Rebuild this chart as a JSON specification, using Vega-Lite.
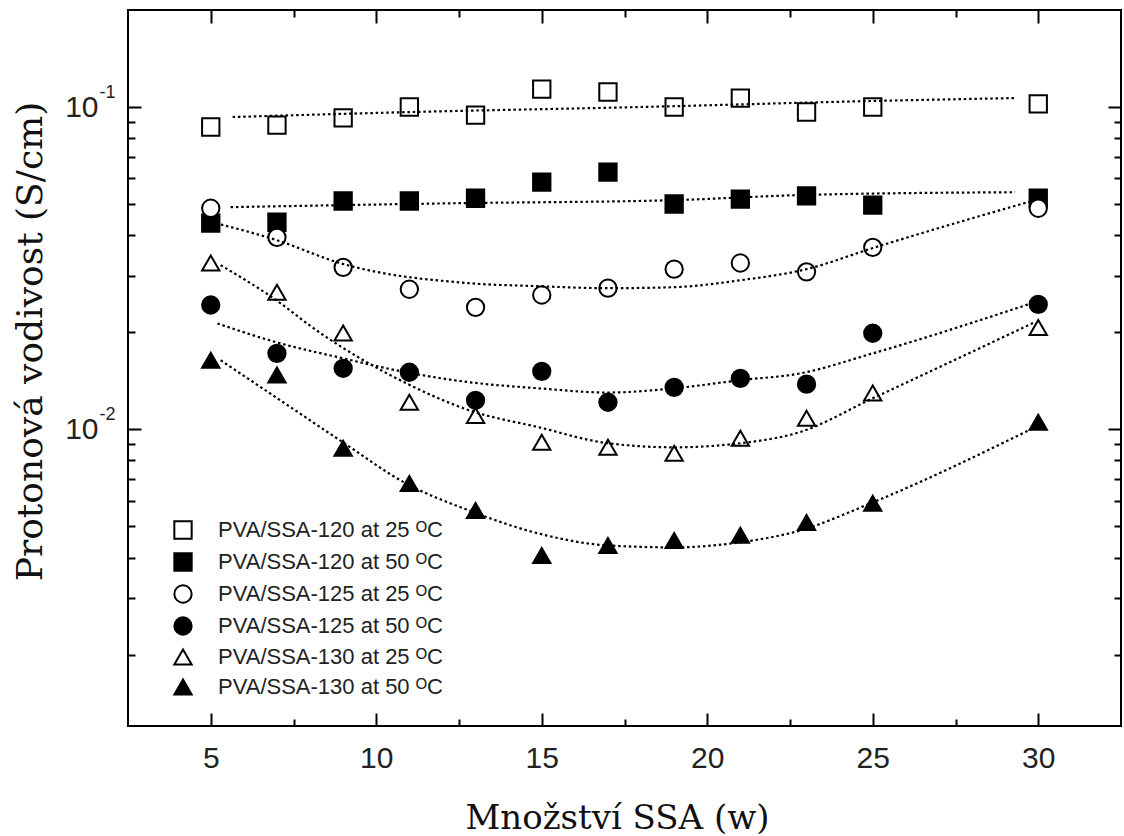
{
  "$schema": "https://vega.github.io/schema/vega-lite/v6.json",
  "width": 993,
  "height": 716,
  "autosize": "none",
  "padding": {"left": 128, "top": 10, "right": 3, "bottom": 110},
  "background": "white",
  "config": {
    "view": {"stroke": "black", "strokeWidth": 2},
    "legend": {
      "labelFont": "Liberation Sans",
      "labelFontSize": 22,
      "labelColor": "#222",
      "symbolStrokeColor": "black",
      "symbolStrokeWidth": 2,
      "rowPadding": 6,
      "labelOffset": 24,
      "padding": 0,
      "labelLimit": 400
    }
  },
  "datasets": {
    "pts": [
      {"series": "PVA/SSA-120 at 25 ᴼC", "w": 5, "sigma": 0.0867},
      {"series": "PVA/SSA-120 at 25 ᴼC", "w": 7, "sigma": 0.0879},
      {"series": "PVA/SSA-120 at 25 ᴼC", "w": 9, "sigma": 0.0925},
      {"series": "PVA/SSA-120 at 25 ᴼC", "w": 11, "sigma": 0.1},
      {"series": "PVA/SSA-120 at 25 ᴼC", "w": 13, "sigma": 0.0944},
      {"series": "PVA/SSA-120 at 25 ᴼC", "w": 15, "sigma": 0.1137},
      {"series": "PVA/SSA-120 at 25 ᴼC", "w": 17, "sigma": 0.1113},
      {"series": "PVA/SSA-120 at 25 ᴼC", "w": 19, "sigma": 0.1},
      {"series": "PVA/SSA-120 at 25 ᴼC", "w": 21, "sigma": 0.1066},
      {"series": "PVA/SSA-120 at 25 ᴼC", "w": 23, "sigma": 0.0965},
      {"series": "PVA/SSA-120 at 25 ᴼC", "w": 25, "sigma": 0.1},
      {"series": "PVA/SSA-120 at 25 ᴼC", "w": 30, "sigma": 0.1022},
      {"series": "PVA/SSA-120 at 50 ᴼC", "w": 5, "sigma": 0.0436},
      {"series": "PVA/SSA-120 at 50 ᴼC", "w": 7, "sigma": 0.0439},
      {"series": "PVA/SSA-120 at 50 ᴼC", "w": 9, "sigma": 0.0511},
      {"series": "PVA/SSA-120 at 50 ᴼC", "w": 11, "sigma": 0.0511},
      {"series": "PVA/SSA-120 at 50 ᴼC", "w": 13, "sigma": 0.0521},
      {"series": "PVA/SSA-120 at 50 ᴼC", "w": 15, "sigma": 0.0585},
      {"series": "PVA/SSA-120 at 50 ᴼC", "w": 17, "sigma": 0.0628},
      {"series": "PVA/SSA-120 at 50 ᴼC", "w": 19, "sigma": 0.05},
      {"series": "PVA/SSA-120 at 50 ᴼC", "w": 21, "sigma": 0.0518},
      {"series": "PVA/SSA-120 at 50 ᴼC", "w": 23, "sigma": 0.053},
      {"series": "PVA/SSA-120 at 50 ᴼC", "w": 25, "sigma": 0.0496},
      {"series": "PVA/SSA-120 at 50 ᴼC", "w": 30, "sigma": 0.0521},
      {"series": "PVA/SSA-125 at 25 ᴼC", "w": 5, "sigma": 0.0485},
      {"series": "PVA/SSA-125 at 25 ᴼC", "w": 7, "sigma": 0.0394},
      {"series": "PVA/SSA-125 at 25 ᴼC", "w": 9, "sigma": 0.0318},
      {"series": "PVA/SSA-125 at 25 ᴼC", "w": 11, "sigma": 0.0272},
      {"series": "PVA/SSA-125 at 25 ᴼC", "w": 13, "sigma": 0.0239},
      {"series": "PVA/SSA-125 at 25 ᴼC", "w": 15, "sigma": 0.0261},
      {"series": "PVA/SSA-125 at 25 ᴼC", "w": 17, "sigma": 0.0274},
      {"series": "PVA/SSA-125 at 25 ᴼC", "w": 19, "sigma": 0.0314},
      {"series": "PVA/SSA-125 at 25 ᴼC", "w": 21, "sigma": 0.0328},
      {"series": "PVA/SSA-125 at 25 ᴼC", "w": 23, "sigma": 0.0308},
      {"series": "PVA/SSA-125 at 25 ᴼC", "w": 25, "sigma": 0.0367},
      {"series": "PVA/SSA-125 at 25 ᴼC", "w": 30, "sigma": 0.0485},
      {"series": "PVA/SSA-125 at 50 ᴼC", "w": 5, "sigma": 0.0243},
      {"series": "PVA/SSA-125 at 50 ᴼC", "w": 7, "sigma": 0.0172},
      {"series": "PVA/SSA-125 at 50 ᴼC", "w": 9, "sigma": 0.01546},
      {"series": "PVA/SSA-125 at 50 ᴼC", "w": 11, "sigma": 0.01503},
      {"series": "PVA/SSA-125 at 50 ᴼC", "w": 13, "sigma": 0.0123},
      {"series": "PVA/SSA-125 at 50 ᴼC", "w": 15, "sigma": 0.01513},
      {"series": "PVA/SSA-125 at 50 ᴼC", "w": 17, "sigma": 0.01213},
      {"series": "PVA/SSA-125 at 50 ᴼC", "w": 19, "sigma": 0.01349},
      {"series": "PVA/SSA-125 at 50 ᴼC", "w": 21, "sigma": 0.01438},
      {"series": "PVA/SSA-125 at 50 ᴼC", "w": 23, "sigma": 0.0138},
      {"series": "PVA/SSA-125 at 50 ᴼC", "w": 25, "sigma": 0.01986},
      {"series": "PVA/SSA-125 at 50 ᴼC", "w": 30, "sigma": 0.0244},
      {"series": "PVA/SSA-130 at 25 ᴼC", "w": 5, "sigma": 0.0328},
      {"series": "PVA/SSA-130 at 25 ᴼC", "w": 7, "sigma": 0.0266},
      {"series": "PVA/SSA-130 at 25 ᴼC", "w": 9, "sigma": 0.0199},
      {"series": "PVA/SSA-130 at 25 ᴼC", "w": 11, "sigma": 0.01213},
      {"series": "PVA/SSA-130 at 25 ᴼC", "w": 13, "sigma": 0.01104},
      {"series": "PVA/SSA-130 at 25 ᴼC", "w": 15, "sigma": 0.00911},
      {"series": "PVA/SSA-130 at 25 ᴼC", "w": 17, "sigma": 0.00879},
      {"series": "PVA/SSA-130 at 25 ᴼC", "w": 19, "sigma": 0.00842},
      {"series": "PVA/SSA-130 at 25 ᴼC", "w": 21, "sigma": 0.00937},
      {"series": "PVA/SSA-130 at 25 ᴼC", "w": 23, "sigma": 0.01081},
      {"series": "PVA/SSA-130 at 25 ᴼC", "w": 25, "sigma": 0.01295},
      {"series": "PVA/SSA-130 at 25 ᴼC", "w": 30, "sigma": 0.0207},
      {"series": "PVA/SSA-130 at 50 ᴼC", "w": 5, "sigma": 0.01637},
      {"series": "PVA/SSA-130 at 50 ᴼC", "w": 7, "sigma": 0.01473},
      {"series": "PVA/SSA-130 at 50 ᴼC", "w": 9, "sigma": 0.00873},
      {"series": "PVA/SSA-130 at 50 ᴼC", "w": 11, "sigma": 0.00679},
      {"series": "PVA/SSA-130 at 50 ᴼC", "w": 13, "sigma": 0.0056},
      {"series": "PVA/SSA-130 at 50 ᴼC", "w": 15, "sigma": 0.00406},
      {"series": "PVA/SSA-130 at 50 ᴼC", "w": 17, "sigma": 0.00436},
      {"series": "PVA/SSA-130 at 50 ᴼC", "w": 19, "sigma": 0.00452},
      {"series": "PVA/SSA-130 at 50 ᴼC", "w": 21, "sigma": 0.00469},
      {"series": "PVA/SSA-130 at 50 ᴼC", "w": 23, "sigma": 0.00514},
      {"series": "PVA/SSA-130 at 50 ᴼC", "w": 25, "sigma": 0.00589},
      {"series": "PVA/SSA-130 at 50 ᴼC", "w": 30, "sigma": 0.01051}
    ],
    "fit": [
      {"series": "PVA/SSA-120 at 25 ᴼC", "w": 5.66, "sigma": 0.0931},
      {"series": "PVA/SSA-120 at 25 ᴼC", "w": 11.1, "sigma": 0.0965},
      {"series": "PVA/SSA-120 at 25 ᴼC", "w": 18, "sigma": 0.1},
      {"series": "PVA/SSA-120 at 25 ᴼC", "w": 25, "sigma": 0.1044},
      {"series": "PVA/SSA-120 at 25 ᴼC", "w": 29.3, "sigma": 0.1066},
      {"series": "PVA/SSA-120 at 50 ᴼC", "w": 5.6, "sigma": 0.0489},
      {"series": "PVA/SSA-120 at 50 ᴼC", "w": 12.5, "sigma": 0.0503},
      {"series": "PVA/SSA-120 at 50 ᴼC", "w": 19, "sigma": 0.0514},
      {"series": "PVA/SSA-120 at 50 ᴼC", "w": 22.8, "sigma": 0.0533},
      {"series": "PVA/SSA-120 at 50 ᴼC", "w": 29.3, "sigma": 0.0544},
      {"series": "PVA/SSA-125 at 25 ᴼC", "w": 5.15, "sigma": 0.0436},
      {"series": "PVA/SSA-125 at 25 ᴼC", "w": 7, "sigma": 0.0386},
      {"series": "PVA/SSA-125 at 25 ᴼC", "w": 8.9, "sigma": 0.0328},
      {"series": "PVA/SSA-125 at 25 ᴼC", "w": 12.8, "sigma": 0.0284},
      {"series": "PVA/SSA-125 at 25 ᴼC", "w": 14.9, "sigma": 0.0278},
      {"series": "PVA/SSA-125 at 25 ᴼC", "w": 17, "sigma": 0.0274},
      {"series": "PVA/SSA-125 at 25 ᴼC", "w": 19, "sigma": 0.0276},
      {"series": "PVA/SSA-125 at 25 ᴼC", "w": 21, "sigma": 0.029},
      {"series": "PVA/SSA-125 at 25 ᴼC", "w": 23, "sigma": 0.0314},
      {"series": "PVA/SSA-125 at 25 ᴼC", "w": 25, "sigma": 0.0365},
      {"series": "PVA/SSA-125 at 25 ᴼC", "w": 29.9, "sigma": 0.0514},
      {"series": "PVA/SSA-125 at 50 ᴼC", "w": 5.2, "sigma": 0.0213},
      {"series": "PVA/SSA-125 at 50 ᴼC", "w": 7, "sigma": 0.0186},
      {"series": "PVA/SSA-125 at 50 ᴼC", "w": 9, "sigma": 0.0166},
      {"series": "PVA/SSA-125 at 50 ᴼC", "w": 10.9, "sigma": 0.01503},
      {"series": "PVA/SSA-125 at 50 ᴼC", "w": 12.8, "sigma": 0.014},
      {"series": "PVA/SSA-125 at 50 ᴼC", "w": 14.9, "sigma": 0.0134},
      {"series": "PVA/SSA-125 at 50 ᴼC", "w": 17, "sigma": 0.013},
      {"series": "PVA/SSA-125 at 50 ᴼC", "w": 19, "sigma": 0.0134},
      {"series": "PVA/SSA-125 at 50 ᴼC", "w": 21, "sigma": 0.0142},
      {"series": "PVA/SSA-125 at 50 ᴼC", "w": 22.8, "sigma": 0.0149},
      {"series": "PVA/SSA-125 at 50 ᴼC", "w": 25, "sigma": 0.0172},
      {"series": "PVA/SSA-125 at 50 ᴼC", "w": 29.9, "sigma": 0.0248},
      {"series": "PVA/SSA-130 at 25 ᴼC", "w": 5.3, "sigma": 0.0323},
      {"series": "PVA/SSA-130 at 25 ᴼC", "w": 6.8, "sigma": 0.0259},
      {"series": "PVA/SSA-130 at 25 ᴼC", "w": 8.4, "sigma": 0.0196},
      {"series": "PVA/SSA-130 at 25 ᴼC", "w": 9.6, "sigma": 0.0164},
      {"series": "PVA/SSA-130 at 25 ᴼC", "w": 10.9, "sigma": 0.0139},
      {"series": "PVA/SSA-130 at 25 ᴼC", "w": 12.8, "sigma": 0.01146},
      {"series": "PVA/SSA-130 at 25 ᴼC", "w": 14.9, "sigma": 0.01015},
      {"series": "PVA/SSA-130 at 25 ᴼC", "w": 17, "sigma": 0.00905},
      {"series": "PVA/SSA-130 at 25 ᴼC", "w": 19, "sigma": 0.00879},
      {"series": "PVA/SSA-130 at 25 ᴼC", "w": 21, "sigma": 0.00905},
      {"series": "PVA/SSA-130 at 25 ᴼC", "w": 22.8, "sigma": 0.0098},
      {"series": "PVA/SSA-130 at 25 ᴼC", "w": 25, "sigma": 0.01248},
      {"series": "PVA/SSA-130 at 25 ᴼC", "w": 29.9, "sigma": 0.0215},
      {"series": "PVA/SSA-130 at 50 ᴼC", "w": 5.3, "sigma": 0.01637},
      {"series": "PVA/SSA-130 at 50 ᴼC", "w": 7, "sigma": 0.0125},
      {"series": "PVA/SSA-130 at 50 ᴼC", "w": 9, "sigma": 0.0091},
      {"series": "PVA/SSA-130 at 50 ᴼC", "w": 10.9, "sigma": 0.00679},
      {"series": "PVA/SSA-130 at 50 ᴼC", "w": 12.8, "sigma": 0.0056},
      {"series": "PVA/SSA-130 at 50 ᴼC", "w": 14.9, "sigma": 0.00475},
      {"series": "PVA/SSA-130 at 50 ᴼC", "w": 17, "sigma": 0.00436},
      {"series": "PVA/SSA-130 at 50 ᴼC", "w": 19, "sigma": 0.0043},
      {"series": "PVA/SSA-130 at 50 ᴼC", "w": 21, "sigma": 0.00446},
      {"series": "PVA/SSA-130 at 50 ᴼC", "w": 22.8, "sigma": 0.00485},
      {"series": "PVA/SSA-130 at 50 ᴼC", "w": 25, "sigma": 0.00593},
      {"series": "PVA/SSA-130 at 50 ᴼC", "w": 29.9, "sigma": 0.01014}
    ]
  },
  "resolve": {"axis": {"x": "independent", "y": "independent"}},
  "layer": [
    {
      "data": {"name": "pts"},
      "mark": {"type": "point", "filled": true, "strokeWidth": 2, "opacity": 1},
      "encoding": {
        "x": {
          "field": "w", "type": "quantitative",
          "scale": {"domain": [2.5, 32.5], "nice": false, "zero": false},
          "axis": {
            "orient": "bottom", "values": [5, 10, 15, 20, 25, 30], "ticks": false, "domain": false, "grid": false,
            "labelFont": "Liberation Sans", "labelFontSize": 30, "labelColor": "#222", "labelPadding": 17, "labelFlush": false,
            "title": "Množství SSA (w)", "titleFont": "DejaVu Serif", "titleFontSize": 34, "titleFontWeight": "normal",
            "titleColor": "#111", "titleX": 489, "titleY": 102, "titleBaseline": "alphabetic", "titleAlign": "center"
          }
        },
        "y": {
          "field": "sigma", "type": "quantitative",
          "scale": {"type": "log", "domain": [0.0012, 0.2], "nice": false},
          "axis": {
            "orient": "left", "values": [0.01, 0.1], "labelExpr": "'10'", "ticks": false, "domain": false, "grid": false,
            "labelFont": "Liberation Sans", "labelFontSize": 30, "labelColor": "#222", "labelPadding": 30,
            "labelBaseline": "middle", "labelFlush": false, "labelOverlap": false,
            "title": "Protonová vodivost (S/cm)", "titleFont": "DejaVu Serif", "titleFontSize": 36, "titleFontWeight": "normal",
            "titleColor": "#111", "titleX": -87, "titleY": 331, "titleAngle": 270, "titleBaseline": "alphabetic", "titleAlign": "center"
          }
        },
        "shape": {
          "field": "series", "type": "nominal",
          "scale": {
            "domain": ["PVA/SSA-120 at 25 ᴼC", "PVA/SSA-120 at 50 ᴼC", "PVA/SSA-125 at 25 ᴼC", "PVA/SSA-125 at 50 ᴼC", "PVA/SSA-130 at 25 ᴼC", "PVA/SSA-130 at 50 ᴼC"],
            "range": ["square", "square", "circle", "circle", "triangle-up", "triangle-up"]
          },
          "legend": {"orient": "none", "legendX": 44, "legendY": 509, "title": null}
        },
        "fill": {
          "field": "series", "type": "nominal",
          "scale": {
            "domain": ["PVA/SSA-120 at 25 ᴼC", "PVA/SSA-120 at 50 ᴼC", "PVA/SSA-125 at 25 ᴼC", "PVA/SSA-125 at 50 ᴼC", "PVA/SSA-130 at 25 ᴼC", "PVA/SSA-130 at 50 ᴼC"],
            "range": ["white", "black", "white", "black", "white", "black"]
          },
          "legend": {"orient": "none", "legendX": 44, "legendY": 509, "title": null}
        },
        "stroke": {
          "field": "series", "type": "nominal",
          "scale": {
            "domain": ["PVA/SSA-120 at 25 ᴼC", "PVA/SSA-120 at 50 ᴼC", "PVA/SSA-125 at 25 ᴼC", "PVA/SSA-125 at 50 ᴼC", "PVA/SSA-130 at 25 ᴼC", "PVA/SSA-130 at 50 ᴼC"],
            "range": ["black", "black", "black", "black", "black", "black"]
          },
          "legend": {"orient": "none", "legendX": 44, "legendY": 509, "title": null}
        },
        "size": {
          "field": "series", "type": "nominal",
          "scale": {
            "domain": ["PVA/SSA-120 at 25 ᴼC", "PVA/SSA-120 at 50 ᴼC", "PVA/SSA-125 at 25 ᴼC", "PVA/SSA-125 at 50 ᴼC", "PVA/SSA-130 at 25 ᴼC", "PVA/SSA-130 at 50 ᴼC"],
            "range": [300, 300, 310, 310, 540, 540]
          },
          "legend": {"orient": "none", "legendX": 44, "legendY": 509, "title": null}
        }
      }
    },
    {
      "data": {"name": "fit"},
      "mark": {"type": "line", "stroke": "black", "strokeWidth": 2.2, "strokeDash": [2.5, 2.8], "interpolate": "monotone"},
      "encoding": {
        "x": {
          "field": "w", "type": "quantitative",
          "axis": {"orient": "bottom", "values": [5, 10, 15, 20, 25, 30], "labels": false, "domain": false, "grid": false, "tickSize": -13, "tickWidth": 2, "tickColor": "black", "title": null}
        },
        "y": {
          "field": "sigma", "type": "quantitative",
          "axis": {
            "orient": "left", "values": [0.01, 0.1], "labelExpr": "datum.value > 0.05 ? '-1' : '-2'", "ticks": false, "domain": false, "grid": false,
            "labelFont": "Liberation Sans", "labelFontSize": 18, "labelColor": "#222", "labelAlign": "left", "labelBaseline": "middle",
            "labelPadding": 29, "labelOffset": -15, "labelFlush": false, "labelOverlap": false, "title": null
          }
        },
        "detail": {"field": "series", "type": "nominal"}
      }
    },
    {
      "data": {"name": "pts"},
      "mark": {"type": "point", "opacity": 0},
      "encoding": {
        "x": {
          "field": "w", "type": "quantitative",
          "axis": {"orient": "bottom", "values": [7.5, 12.5, 17.5, 22.5, 27.5], "labels": false, "domain": false, "grid": false, "tickSize": -7, "tickWidth": 2, "tickColor": "black", "title": null}
        },
        "y": {
          "field": "sigma", "type": "quantitative",
          "axis": {"orient": "left", "values": [0.01, 0.1], "labels": false, "domain": false, "grid": false, "tickSize": -13, "tickWidth": 2, "tickColor": "black", "title": null}
        }
      }
    },
    {
      "data": {"name": "pts"},
      "mark": {"type": "point", "opacity": 0},
      "encoding": {
        "x": {
          "field": "w", "type": "quantitative",
          "axis": {"orient": "top", "values": [5, 10, 15, 20, 25, 30], "labels": false, "domain": false, "grid": false, "tickSize": -13, "tickWidth": 2, "tickColor": "black", "title": null}
        },
        "y": {
          "field": "sigma", "type": "quantitative",
          "axis": {"orient": "left", "values": [0.002, 0.003, 0.004, 0.005, 0.006, 0.007, 0.008, 0.009, 0.02, 0.03, 0.04, 0.05, 0.06, 0.07, 0.08, 0.09], "labels": false, "domain": false, "grid": false, "tickSize": -7, "tickWidth": 2, "tickColor": "black", "title": null}
        }
      }
    },
    {
      "data": {"name": "pts"},
      "mark": {"type": "point", "opacity": 0},
      "encoding": {
        "x": {
          "field": "w", "type": "quantitative",
          "axis": {"orient": "top", "values": [7.5, 12.5, 17.5, 22.5, 27.5], "labels": false, "domain": false, "grid": false, "tickSize": -7, "tickWidth": 2, "tickColor": "black", "title": null}
        },
        "y": {
          "field": "sigma", "type": "quantitative",
          "axis": {"orient": "right", "values": [0.01, 0.1], "labels": false, "domain": false, "grid": false, "tickSize": -13, "tickWidth": 2, "tickColor": "black", "title": null}
        }
      }
    },
    {
      "data": {"name": "pts"},
      "mark": {"type": "point", "opacity": 0},
      "encoding": {
        "x": {"field": "w", "type": "quantitative", "axis": null},
        "y": {
          "field": "sigma", "type": "quantitative",
          "axis": {"orient": "right", "values": [0.002, 0.003, 0.004, 0.005, 0.006, 0.007, 0.008, 0.009, 0.02, 0.03, 0.04, 0.05, 0.06, 0.07, 0.08, 0.09], "labels": false, "domain": false, "grid": false, "tickSize": -7, "tickWidth": 2, "tickColor": "black", "title": null}
        }
      }
    }
  ]
}
